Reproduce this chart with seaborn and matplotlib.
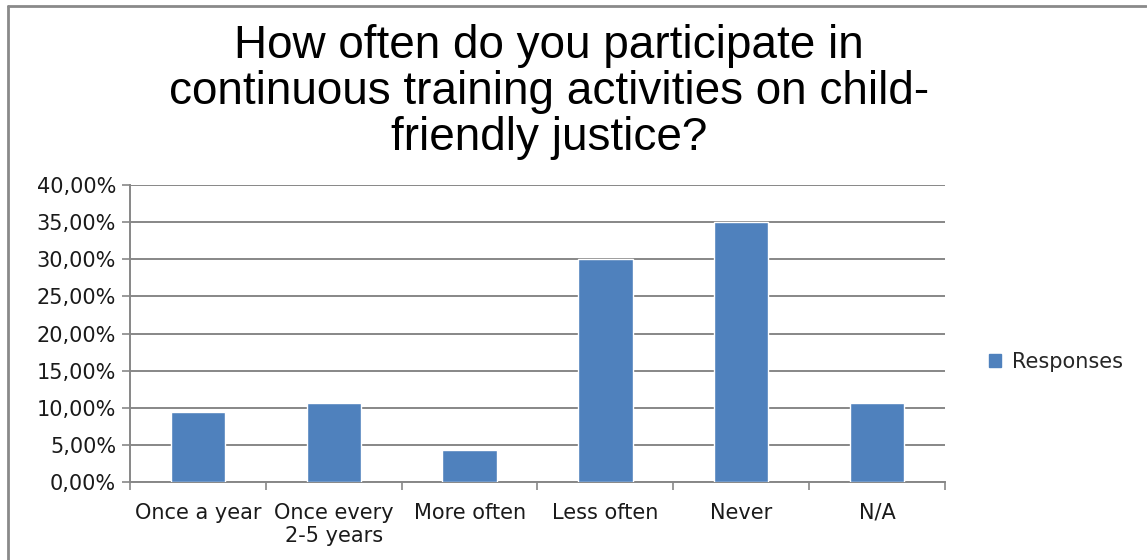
import matplotlib
matplotlib.use("Agg")
import matplotlib.pyplot as plt
from matplotlib.patches import Patch
from matplotlib.lines import Line2D
from matplotlib.ticker import FuncFormatter, FixedLocator
import seaborn as sns
import pandas as pd

# Survey answers and share of respondents (%)
categories = ["Once a year", "Once every\n2-5 years", "More often", "Less often", "Never", "N/A"]
shares = [9.4, 10.6, 4.3, 30.0, 35.0, 10.6]
series_name = "Responses"
title = "How often do you participate in\ncontinuous training activities on child-\nfriendly justice?"

bar_color = "#4F81BD"
grid_color = "#878787"

sns.set_theme(style="white")
plt.rcParams["font.family"] = ["DejaVu Sans"]

df = pd.DataFrame({"category": categories, "share": shares, "series": series_name})

fig = plt.figure(figsize=(11.47, 5.60), dpi=100)
ax = fig.add_axes([130 / 1147, 1 - 482 / 560, (945 - 130) / 1147, (482 - 185) / 560])

sns.barplot(data=df, x="category", y="share", hue="series", palette=[bar_color],
            width=0.4, saturation=1, legend=False, ax=ax, zorder=3)

ax.set_ylim(0, 40)
ax.set_xlim(-0.5, len(categories) - 0.5)
ax.yaxis.set_major_locator(FixedLocator([0, 5, 10, 15, 20, 25, 30, 35, 40]))
ax.yaxis.set_major_formatter(FuncFormatter(lambda v, _: f"{v:.2f}".replace(".", ",") + "%"))
ax.yaxis.grid(True, color=grid_color, linewidth=1.4, zorder=0)
ax.set_xlabel("")
ax.set_ylabel("")

for s in ["top", "right"]:
    ax.spines[s].set_visible(False)
for s in ["left", "bottom"]:
    ax.spines[s].set_color(grid_color)
    ax.spines[s].set_linewidth(1.4)

ax.tick_params(axis="y", which="major", left=True, length=6, width=1.2, color=grid_color,
               labelsize=15, labelcolor="#1a1a1a", pad=4)
ax.tick_params(axis="x", which="major", bottom=False, labelsize=15, labelcolor="#1a1a1a", pad=9)
ax.set_xticks([i - 0.5 for i in range(len(categories) + 1)], minor=True)
ax.tick_params(axis="x", which="minor", bottom=True, length=6, width=1.2, color=grid_color)

# Title above the plot area
fig.text(549 / 1147, 1 - 92 / 560, title, ha="center", va="center", fontsize=33,
         family=["Liberation Sans", "DejaVu Sans"], linespacing=1.07, color="black")

# Legend on the right
handle = Patch(facecolor=bar_color, edgecolor=bar_color)
fig.legend(handles=[handle], labels=[series_name], loc="center left",
           bbox_to_anchor=(970 / 1147, 1 - 362 / 560), frameon=False,
           handlelength=0.6, handleheight=0.6, handletextpad=0.5, fontsize=15)

# Outer chart frame (left and top edges)
fig.add_artist(Line2D([8 / 1147, 8 / 1147], [0, 1 - 5.5 / 560], transform=fig.transFigure,
                      color="#8a8a8a", linewidth=2))
fig.add_artist(Line2D([8 / 1147, 1146 / 1147], [1 - 5.5 / 560, 1 - 5.5 / 560],
                      transform=fig.transFigure, color="#8a8a8a", linewidth=2))

fig.savefig("out.png", dpi=100, facecolor="white")
